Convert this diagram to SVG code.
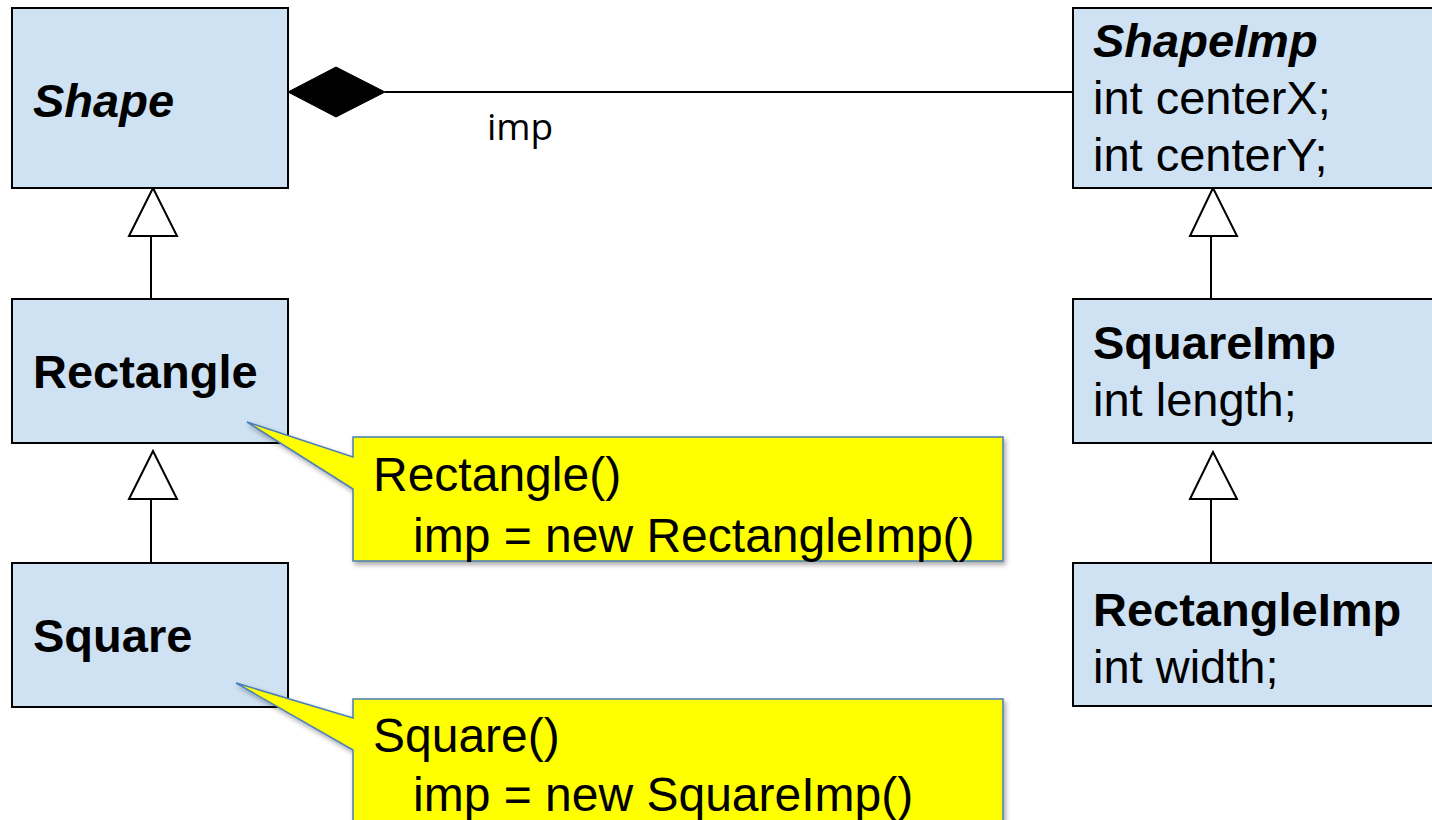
<svg xmlns="http://www.w3.org/2000/svg" width="1432" height="820" viewBox="0 0 1432 820">
<style>
.cls{fill:#cfe2f3;stroke:#000;stroke-width:2}
.t{font-family:"Liberation Sans",Arial,sans-serif;font-size:47px;fill:#000}
.b{font-weight:bold}
.i{font-style:italic}
.ln{stroke:#000;stroke-width:2;fill:none}
.tri{fill:#fff;stroke:#000;stroke-width:2}
.note{fill:#ffff00;stroke:#4a7ebb;stroke-width:1.5}
.nt{font-family:"Liberation Sans",Arial,sans-serif;font-size:48px;fill:#000}
</style>
<defs>
<filter id="sh" x="-10%" y="-10%" width="130%" height="140%">
<feDropShadow dx="2" dy="3" stdDeviation="2.5" flood-color="#000" flood-opacity="0.35"/>
</filter>
</defs>
<rect width="1432" height="820" fill="#fff"/>
<g id="connectors">
<line class="ln" x1="385" y1="92" x2="1073" y2="92"/>
<polygon points="288,92 336,67 385,92 336,117" fill="#000" stroke="#000" stroke-width="1"/>
<text x="487" y="140" font-family="'Open Sans','Liberation Sans',sans-serif" font-size="37" fill="#000">imp</text>
<line class="ln" x1="151" y1="236" x2="151" y2="299"/>
<polygon class="tri" points="153,188 129,236 177,236"/>
<line class="ln" x1="151" y1="499" x2="151" y2="563"/>
<polygon class="tri" points="153,451 129,499 177,499"/>
<line class="ln" x1="1211" y1="236" x2="1211" y2="299"/>
<polygon class="tri" points="1213,188 1190,236 1237,236"/>
<line class="ln" x1="1211" y1="499" x2="1211" y2="563"/>
<polygon class="tri" points="1213,452 1190,499 1237,499"/>
</g>
<g id="shape">
<rect class="cls" x="12" y="8" width="276" height="180"/>
<text class="t b i" x="33" y="117">Shape</text>
</g>
<g id="rectangle">
<rect class="cls" x="12" y="299" width="276" height="144"/>
<text class="t b" x="33" y="388">Rectangle</text>
</g>
<g id="square">
<rect class="cls" x="12" y="563" width="276" height="144"/>
<text class="t b" x="33" y="652">Square</text>
</g>
<g id="shapeimp">
<rect class="cls" x="1073" y="8" width="380" height="180"/>
<text class="t b i" x="1093" y="57">ShapeImp</text>
<text class="t" x="1093" y="114">int centerX;</text>
<text class="t" x="1093" y="171">int centerY;</text>
</g>
<g id="squareimp">
<rect class="cls" x="1073" y="299" width="380" height="144"/>
<text class="t b" x="1093" y="359">SquareImp</text>
<text class="t" x="1093" y="416">int length;</text>
</g>
<g id="rectangleimp">
<rect class="cls" x="1073" y="563" width="380" height="143"/>
<text class="t b" x="1093" y="626">RectangleImp</text>
<text class="t" x="1093" y="683">int width;</text>
</g>
<g id="note-rectangle">
<path class="note" filter="url(#sh)" d="M353,437 L1003,437 L1003,561 L353,561 L353,489 L247,422 L353,457 Z"/>
<text class="nt" x="373" y="491">Rectangle()</text>
<text class="nt" x="413" y="552">imp = new RectangleImp()</text>
</g>
<g id="note-square">
<path class="note" filter="url(#sh)" d="M353,699 L1003,699 L1003,840 L353,840 L353,750 L236,683 L353,718 Z"/>
<text class="nt" x="373" y="752">Square()</text>
<text class="nt" x="413" y="811">imp = new SquareImp()</text>
</g>
</svg>
